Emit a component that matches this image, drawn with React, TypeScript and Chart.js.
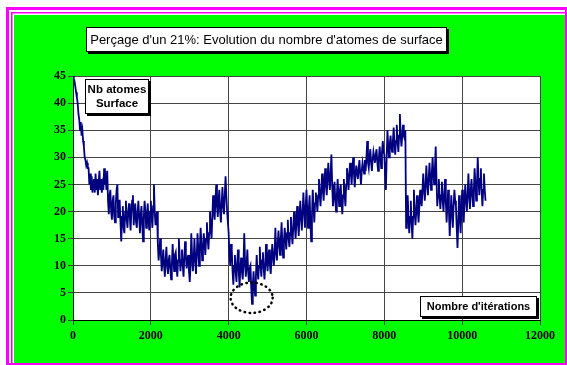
import React, { useEffect, useRef } from "react";
import { Chart, registerables } from "chart.js";

Chart.register(...registerables);

// Iterations between two samples
const STEP = 20;

// Number of surface atoms, read every STEP iterations (0 .. 10600)
const atomesSurface: number[] = [
  45, 44.5, 44, 43, 42, 41, 40, 38, 37, 35, 36.5, 34, 35, 33, 32, 30, 29.5, 28.5, 29, 28,
  28, 25, 27, 24, 26.5, 23.5, 25, 26, 23.5, 27, 24, 26, 23, 25.5, 27.5, 24, 26, 23.5, 25, 24,
  28, 25, 26, 24, 27.5, 22, 19.5, 23, 24, 20, 18.5, 22, 23, 19, 18, 21.5, 24, 25, 19, 22,
  22, 18, 14.5, 19, 21, 17, 16, 20, 22, 18.5, 17, 20, 21.5, 19, 16.5, 20, 22, 23, 17.5, 20,
  21.5, 18, 17, 20, 22, 19, 16, 19.5, 21, 17.5, 14.5, 19, 22, 20, 17, 19, 21.5, 18.5, 16.5, 20,
  22, 19, 17, 21, 25, 20, 17.5, 19, 20, 14, 11, 13, 15, 12, 9, 11, 13, 10, 8, 11,
  13.5, 10, 8.5, 11, 12, 9.5, 7.5, 10, 14, 11, 9, 12, 12.5, 10, 8, 11, 15, 12, 9, 11,
  13, 10, 8, 11.5, 14.5, 12, 9.5, 11, 12, 9, 7, 10, 16, 12, 9, 11, 15, 11.5, 8.5, 12,
  16, 13, 10, 13.5, 17, 14, 11, 13, 16, 14, 12, 15, 18, 15, 13, 16, 20, 17, 15, 19,
  23, 20, 18.5, 22, 25, 21, 19, 22, 24, 20, 18, 21.5, 24.5, 21, 19.5, 23, 26.5, 23, 20, 18,
  16, 12, 10, 14, 13, 9, 6.5, 10, 12, 9, 7, 10.5, 13, 9, 6, 9.5, 11.5, 9, 7.5, 10,
  16, 11, 8, 10, 13, 9, 7, 9.5, 10, 6, 3, 6.5, 9, 6, 4.5, 8, 12, 9, 7.5, 10,
  13.5, 10, 8, 11, 12.5, 9.5, 7.5, 10, 14, 11, 9, 12, 13, 10, 8.5, 11, 14, 12, 10, 12,
  17, 13, 11, 14, 16.5, 14, 12, 15, 18, 14, 11.5, 14.5, 17, 15, 13, 16, 18.5, 15, 13.5, 16,
  19, 16, 14, 17, 20, 17.5, 15, 18, 21, 18, 15.5, 19, 22, 19, 16.5, 20, 23.5, 20, 17, 21,
  24, 20, 17, 20.5, 23, 18, 14.5, 19, 24, 21, 18, 21.5, 23.5, 22, 20, 23, 26, 23, 21, 24,
  27, 24, 22, 25, 28, 25, 23, 26, 29, 26, 24, 27, 30.5, 25, 21, 23, 25.5, 22, 20, 23,
  26, 23, 21, 24, 25, 22, 19.5, 23, 26, 23, 21, 25, 28, 26, 24, 27, 29, 27, 25, 28,
  30, 27, 24.5, 27, 28.5, 27, 26, 28, 29.5, 27, 25, 27.5, 29, 28, 27, 29.5, 27.5, 30, 33, 29,
  28, 30, 31.5, 29, 27.5, 29.5, 31, 30, 29, 30.5, 31.5, 29, 27.5, 30, 32, 30, 28, 31, 33, 31,
  30.5, 27, 24, 30, 35, 32, 30, 32.5, 34, 32, 31, 33, 35.5, 33, 30.5, 33, 36, 33, 31, 34,
  38, 34, 32, 34, 36, 34, 33.5, 35, 17, 20, 23, 19, 16, 19, 22, 18, 15, 19, 24, 20,
  17.5, 20, 23, 20, 18, 21, 24, 22, 21, 24, 27, 24, 22, 25, 28.5, 25, 23, 26, 29, 26,
  24, 27, 30, 27, 25, 28, 32, 26, 21, 23, 26, 23, 20.5, 23, 25.5, 22, 20, 23, 26, 22,
  18, 21, 24, 20, 15.5, 19, 23, 20, 17, 21, 24, 22, 21, 17, 13.3, 18, 23, 19, 16, 20,
  24, 21, 18, 22, 25, 22, 20, 23, 27, 23, 20.5, 24, 26, 23, 21, 24, 28, 25, 22, 25,
  30, 26, 23, 26, 28, 24, 21, 24, 27, 24, 22,
];
const iterations: number[] = atomesSurface.map((_, i) => i * STEP);

const X_MIN = 0;
const X_MAX = 12000;
const X_STEP = 2000;
const Y_MIN = 0;
const Y_MAX = 45;
const Y_STEP = 5;

const TITLE = "Perçage d'un 21%: Evolution du nombre d'atomes de surface";
const Y_LABEL = ["Nb atomes", "Surface"];
const X_LABEL = "Nombre d'itérations";

// Dotted ellipse around the minimum (data coordinates)
const ELLIPSE_CENTER = { x: 4590, y: 4.1 };
const ELLIPSE_RADIUS = { x: 540, y: 2.8 };

function drawBox(
  ctx: CanvasRenderingContext2D,
  x: number,
  y: number,
  w: number,
  h: number,
  lines: string[],
  font: string,
  lineH: number
) {
  ctx.save();
  ctx.fillStyle = "#000";
  ctx.fillRect(x + 2, y + 2, w, h);
  ctx.fillStyle = "#fff";
  ctx.fillRect(x, y, w, h);
  ctx.strokeStyle = "#000";
  ctx.lineWidth = 1;
  ctx.strokeRect(x + 0.5, y + 0.5, w - 1, h - 1);
  ctx.fillStyle = "#000";
  ctx.font = font;
  ctx.textAlign = "center";
  ctx.textBaseline = "middle";
  const cy = y + h / 2 - ((lines.length - 1) * lineH) / 2;
  lines.forEach((t, i) => ctx.fillText(t, x + w / 2, cy + i * lineH + 0.5));
  ctx.restore();
}

const framePlugin = {
  id: "frame",
  beforeDraw(chart: any) {
    const ctx: CanvasRenderingContext2D = chart.ctx;
    const W = chart.width;
    const H = chart.height;
    ctx.save();
    ctx.fillStyle = "#fff";
    ctx.fillRect(0, 0, W, H);
    ctx.fillStyle = "#ff00ff";
    ctx.fillRect(6, 7, W - 6, H - 7);
    ctx.fillStyle = "#fff";
    ctx.fillRect(9, 10, W - 11, H - 12);
    ctx.fillStyle = "#ff00ff";
    ctx.fillRect(11, 12, W - 13, H - 14);
    ctx.fillStyle = "#fff";
    ctx.fillRect(12.5, 13.5, W - 14.5, H - 15.5);
    ctx.fillStyle = "#00ff00";
    ctx.fillRect(14, 15, W - 16, H - 17);
    const a = chart.chartArea;
    ctx.fillStyle = "#fff";
    ctx.fillRect(a.left, a.top, a.right - a.left, a.bottom - a.top);
    ctx.restore();
  },
  afterDatasetsDraw(chart: any) {
    const ctx: CanvasRenderingContext2D = chart.ctx;
    const xs = chart.scales.x;
    const ys = chart.scales.y;
    const cx = xs.getPixelForValue(ELLIPSE_CENTER.x);
    const cy = ys.getPixelForValue(ELLIPSE_CENTER.y);
    const rx = xs.getPixelForValue(ELLIPSE_CENTER.x + ELLIPSE_RADIUS.x) - cx;
    const ry = cy - ys.getPixelForValue(ELLIPSE_CENTER.y + ELLIPSE_RADIUS.y);
    ctx.save();
    ctx.strokeStyle = "#000";
    ctx.lineWidth = 2.5;
    ctx.lineCap = "round";
    ctx.setLineDash([0.5, 4.5]);
    ctx.beginPath();
    ctx.ellipse(cx, cy, rx, ry, 0, 0, Math.PI * 2);
    ctx.stroke();
    ctx.restore();

    drawBox(ctx, 86, 27, 361, 25, [TITLE], "13px 'Liberation Sans', Arial, sans-serif", 14);
    drawBox(ctx, 85, 79, 64, 35, Y_LABEL, "bold 11.5px 'Liberation Sans', Arial, sans-serif", 14);
    drawBox(ctx, 420, 296, 117, 21, [X_LABEL], "bold 11px 'Liberation Sans', Arial, sans-serif", 13);
  },
};

export default function App() {
  const ref = useRef<HTMLCanvasElement | null>(null);

  useEffect(() => {
    document.body.style.margin = "0";
    const canvas = ref.current;
    if (!canvas) return;
    const tickFont = { family: "'Liberation Serif', 'Times New Roman', serif", size: 12, weight: "bold" as const };
    const chart = new Chart(canvas, {
      type: "line",
      data: {
        labels: iterations,
        datasets: [
          {
            data: iterations.map((x, i) => ({ x, y: atomesSurface[i] })),
            borderColor: "#000080",
            borderWidth: 1.8,
            pointRadius: 0,
            tension: 0,
            fill: false,
          },
        ],
      },
      options: {
        animation: false,
        responsive: false,
        devicePixelRatio: 1,
        parsing: false as any,
        layout: { padding: { left: 13, right: 27, top: 76, bottom: 15 } },
        plugins: {
          legend: { display: false },
          tooltip: { enabled: false },
          title: { display: false },
        },
        scales: {
          x: {
            type: "linear",
            min: X_MIN,
            max: X_MAX,
            ticks: {
              stepSize: X_STEP,
              color: "#000",
              font: tickFont,
              padding: 4,
              maxRotation: 0,
              callback: (v: any) => String(v),
            },
            grid: { color: "#444", lineWidth: 1, tickLength: 5, drawTicks: true },
            border: { display: true, color: "#000", width: 1 },
            afterFit: (s: any) => {
              s.height = 30;
            },
          },
          y: {
            type: "linear",
            min: Y_MIN,
            max: Y_MAX,
            ticks: {
              stepSize: Y_STEP,
              color: "#000",
              font: tickFont,
              padding: 2,
              callback: (v: any) => String(v),
            },
            grid: { color: "#444", lineWidth: 1, tickLength: 5, drawTicks: true },
            border: { display: true, color: "#000", width: 1 },
            afterFit: (s: any) => {
              s.width = 60;
            },
          },
        },
      },
      plugins: [framePlugin],
    });
    return () => chart.destroy();
  }, []);

  return <canvas ref={ref} width={567} height={365} style={{ display: "block" }} />;
}
